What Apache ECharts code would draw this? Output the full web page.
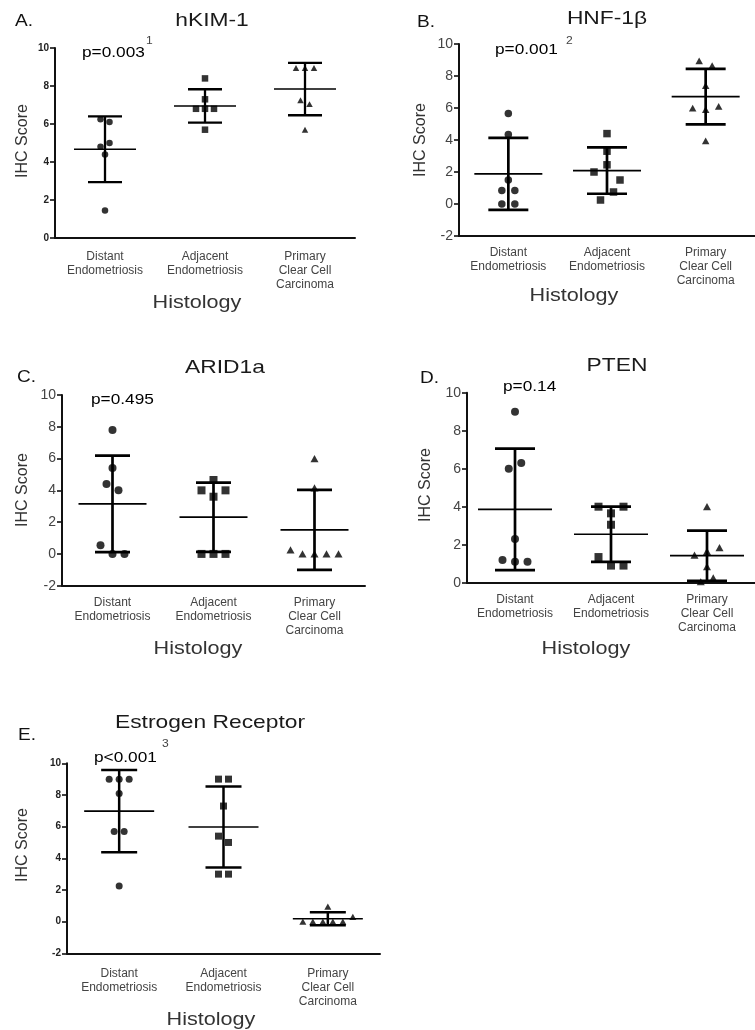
<!DOCTYPE html>
<html><head><meta charset="utf-8">
<script src="https://cdn.jsdelivr.net/npm/echarts@6/dist/echarts.min.js"></script>
<style>html,body{margin:0;padding:0;background:#fff}#c{width:755px;height:1030px}</style>
</head><body><div id="c"></div>
<script>
// ---------- data ----------
const categories = ['Distant\nEndometriosis', 'Adjacent\nEndometriosis', 'Primary\nClear Cell\nCarcinoma'];

// A. hKIM-1
const kimDistant  = [6.25, 6.1, 4.8, 5.0, 4.4, 1.45];
const kimAdjacent = [8.4, 7.3, 6.8, 6.8, 6.8, 5.7];
const kimPrimary  = [8.95, 8.95, 8.95, 7.25, 7.05, 5.7];
const kimMean = [4.67, 6.95, 7.84];
const kimSD   = [1.73, 0.88, 1.38];

// B. HNF-1β
const hnfDistant  = [5.65, 4.35, 1.5, 0.85, 0.85, 0, 0];
const hnfAdjacent = [4.4, 3.3, 2.45, 2.0, 1.5, 0.25, 0.75];
const hnfPrimary  = [8.95, 8.65, 7.4, 5.9, 6.0, 6.1, 3.95];
const hnfMean = [1.88, 2.09, 6.71];
const hnfSD   = [2.25, 1.45, 1.73];

// C. ARID1a
const aridDistant  = [7.8, 5.4, 4.4, 4.0, 0, 0.55, 0];
const aridAdjacent = [4.65, 3.6, 4.0, 4.0, 0, 0, 0];
const aridPrimary  = [6.0, 4.15, 0, 0, 0, 0.25, 0];
const aridMean = [3.15, 2.31, 1.51];
const aridSD   = [3.04, 2.18, 2.52];

// D. PTEN
const ptenDistant  = [9.0, 6.0, 6.3, 2.3, 1.1, 1.2, 1.1];
const ptenAdjacent = [3.65, 4.0, 4.0, 3.05, 0.9, 1.35, 0.9];
const ptenPrimary  = [4.0, 1.65, 1.45, 1.85, 0.85, 0.05, 0.25];
const ptenMean = [3.86, 2.55, 1.42];
const ptenSD   = [3.2, 1.45, 1.32];

// E. Estrogen Receptor
const erDistant  = [9.0, 9.0, 9.0, 8.1, 5.7, 5.7, 2.25];
const erAdjacent = [9.0, 9.0, 7.3, 5.4, 5.0, 3.0, 3.0];
const erPrimary  = [0.95, 0, 0, 0, 0, 0, 0.3];
const erMean = [6.98, 5.98, 0.18];
const erSD   = [2.6, 2.56, 0.41];

const yRangeA = [0, 10], yRangeB = [-2, 10], yRangeC = [-2, 10], yRangeD = [0, 10], yRangeE = [-2, 10];

// ---------- layout ----------
const FONT = '"Liberation Sans", Arial, Helvetica, sans-serif';
const panels = [
  {letter:'A.', title:'hKIM-1', p:'p=0.003', sup:'1', groups:[kimDistant, kimAdjacent, kimPrimary], mean:kimMean, sd:kimSD, y:yRangeA,
   grid:{left:55, top:48, width:300, height:190}, sym:6.5, step:9, thr:7, meanHalf:31, capHalf:17, mw:1.5, bw:2.3, small:true, lm:12,
   letterPos:[15,21], titlePos:[212,21], pPos:[82,53], supPos:[146,41], yNamePos:[23,141], xNamePos:[197,303]},
  {letter:'B.', title:'HNF-1β', p:'p=0.001', sup:'2', groups:[hnfDistant, hnfAdjacent, hnfPrimary], mean:hnfMean, sd:hnfSD, y:yRangeB,
   grid:{left:459, top:44, width:302, height:192}, sym:7.5, step:13, thr:9, meanHalf:34, capHalf:20, mw:1.7, bw:2.7, small:false, lm:10,
   letterPos:[417,22], titlePos:[607,19], pPos:[495,50], supPos:[566,41], yNamePos:[421,140], xNamePos:[574,296]},
  {letter:'C.', title:'ARID1a', p:'p=0.495', sup:'', groups:[aridDistant, aridAdjacent, aridPrimary], mean:aridMean, sd:aridSD, y:yRangeC,
   grid:{left:62, top:395, width:303, height:190.7}, sym:8, step:12, thr:9.5, meanHalf:34, capHalf:17.5, mw:1.7, bw:2.7, small:false, lm:10,
   letterPos:[17,377], titlePos:[225,368], pPos:[91,400], supPos:[0,0], yNamePos:[23,490], xNamePos:[198,649]},
  {letter:'D.', title:'PTEN', p:'p=0.14', sup:'', groups:[ptenDistant, ptenAdjacent, ptenPrimary], mean:ptenMean, sd:ptenSD, y:yRangeD,
   grid:{left:467, top:392.7, width:303, height:190}, sym:8, step:12.5, thr:9.5, meanHalf:37, capHalf:20, mw:1.7, bw:2.7, small:false, lm:10,
   letterPos:[420,378], titlePos:[617,366], pPos:[503,387], supPos:[0,0], yNamePos:[426,485], xNamePos:[586,649]},
  {letter:'E.', title:'Estrogen Receptor', p:'p<0.001', sup:'3', groups:[erDistant, erAdjacent, erPrimary], mean:erMean, sd:erSD, y:yRangeE,
   grid:{left:67, top:763.3, width:313, height:190}, sym:7, step:10, thr:9, meanHalf:35, capHalf:18, mw:1.6, bw:2.5, small:true, lm:13,
   letterPos:[18,735], titlePos:[210,723], pPos:[94,758], supPos:[162,744], yNamePos:[22.5,845], xNamePos:[211,1020]}
];
const SYMBOLS = ['circle', 'rect', 'triangle'];

// spread points with (almost) equal values side by side, like a dot plot
function spread(vals, pxPerUnit, step, thr) {
  const order = vals.map((v, i) => i).sort((a, b) => (vals[b] - vals[a]) || (a - b));
  const off = new Array(vals.length).fill(0);
  let cluster = [order[0]];
  const flush = () => {
    const m = cluster.slice().sort((a, b) => a - b), n = m.length;
    m.forEach((k, r) => {
      let o;
      if (n % 2 === 1) { const q = Math.ceil(r / 2); o = r === 0 ? 0 : (r % 2 === 1 ? -q : q) * step; }
      else { const q = Math.floor(r / 2) + 0.5; o = (r % 2 === 0 ? -q : q) * step; }
      off[k] = o;
    });
  };
  for (let j = 1; j < order.length; j++) {
    const a = order[j - 1], b = order[j];
    if ((vals[a] - vals[b]) * pxPerUnit < thr) cluster.push(b); else { flush(); cluster = [b]; }
  }
  flush();
  return off;
}

function T(text, x, y, size, o) {
  o = o || {};
  const a = o.a || 'center';
  return {type: 'text', x: x, y: y, rotation: o.rot || 0, scaleX: o.sx || 1, scaleY: o.sy || 1, z: 100, silent: true,
    style: {text: text, fontSize: size, fontFamily: FONT, fontWeight: o.w || 'normal', fill: o.c || '#111',
      align: a, textAlign: a, verticalAlign: 'middle', textVerticalAlign: 'middle'}};
}

const grids = [], xAxes = [], yAxes = [], series = [], graphics = [];
panels.forEach((P, pi) => {
  grids.push(Object.assign({containLabel: false}, P.grid));
  xAxes.push({gridIndex: pi, type: 'category', data: categories, boundaryGap: true,
    axisLine: {onZero: false, lineStyle: {color: '#111', width: 2}},
    axisTick: {alignWithLabel: true, length: 5, lineStyle: {color: '#111', width: 1.6}},
    axisLabel: {interval: 0, color: '#444', fontSize: 12, lineHeight: 14, fontFamily: FONT, margin: P.lm},
    splitLine: {show: false}});
  yAxes.push({gridIndex: pi, type: 'value', min: P.y[0], max: P.y[1], interval: 2,
    axisLine: {show: true, lineStyle: {color: '#111', width: 2}},
    axisTick: {show: true, length: 5, lineStyle: {color: '#111', width: 1.6}},
    axisLabel: P.small ? {fontSize: 10, fontWeight: 'bold', color: '#222', fontFamily: FONT, margin: 6}
                       : {fontSize: 14, color: '#444', fontFamily: FONT, margin: 6},
    splitLine: {show: false}});
  const ppu = P.grid.height / (P.y[1] - P.y[0]);
  P.groups.forEach((vals, k) => {
    const off = spread(vals, ppu, P.step, P.thr);
    const sz = k === 2 ? [P.sym, P.sym * 0.9] : P.sym;
    series.push({type: 'scatter', xAxisIndex: pi, yAxisIndex: pi, symbol: SYMBOLS[k], symbolSize: sz,
      itemStyle: {color: '#000'}, z: 3, silent: true,
      data: vals.map((v, j) => ({value: [k, v], symbolOffset: [off[j], 0]}))});
  });
  series.push({type: 'custom', xAxisIndex: pi, yAxisIndex: pi, z: 4, silent: true,
    data: P.mean.map((m, i) => [i, m, P.sd[i]]),
    renderItem: function (params, api) {
      const c = api.value(0), m = api.value(1), s = api.value(2);
      const pm = api.coord([c, m]), pu = api.coord([c, m + s]), pl = api.coord([c, m - s]);
      const st = w => ({stroke: '#000', lineWidth: w});
      return {type: 'group', children: [
        {type: 'line', shape: {x1: pm[0] - P.meanHalf, y1: pm[1], x2: pm[0] + P.meanHalf, y2: pm[1]}, style: st(P.mw)},
        {type: 'line', shape: {x1: pu[0], y1: pu[1], x2: pl[0], y2: pl[1]}, style: st(P.bw)},
        {type: 'line', shape: {x1: pu[0] - P.capHalf, y1: pu[1], x2: pu[0] + P.capHalf, y2: pu[1]}, style: st(P.bw)},
        {type: 'line', shape: {x1: pl[0] - P.capHalf, y1: pl[1], x2: pl[0] + P.capHalf, y2: pl[1]}, style: st(P.bw)}
      ]};
    }});
  graphics.push(T(P.letter, P.letterPos[0], P.letterPos[1], 17, {a: 'left', sx: 1.12, c: '#111'}));
  graphics.push(T(P.title, P.titlePos[0], P.titlePos[1], 19, {sx: 1.2, c: '#1a1a1a'}));
  graphics.push(T(P.p, P.pPos[0], P.pPos[1], 15, {a: 'left', sx: 1.15, c: '#000'}));
  if (P.sup) graphics.push(T(P.sup, P.supPos[0], P.supPos[1], 11, {a: 'left', sx: 1.1, c: '#444'}));
  graphics.push(T('IHC Score', P.yNamePos[0], P.yNamePos[1], 16, {rot: Math.PI / 2, c: '#333'}));
  graphics.push(T('Histology', P.xNamePos[0], P.xNamePos[1], 18, {sx: 1.2, c: '#333'}));
});

const chart = echarts.init(document.getElementById('c'), null, {renderer: 'canvas'});
chart.setOption({animation: false, backgroundColor: '#fff', grid: grids, xAxis: xAxes, yAxis: yAxes, series: series, graphic: graphics});
</script></body></html>
